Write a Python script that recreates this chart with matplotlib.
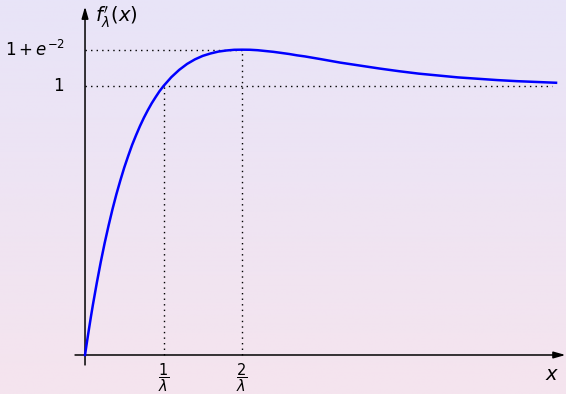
import numpy as np
import matplotlib
matplotlib.use("Agg")
import matplotlib.pyplot as plt

# curve f'_lambda(x) (lambda = 1)
x_vals = [0, 0.025, 0.05, 0.075, 0.1, 0.15, 0.2, 0.25, 0.3, 0.35, 0.4, 0.45,
          0.5, 0.55, 0.6, 0.65, 0.7, 0.75, 0.8, 0.85, 0.9, 0.95, 1.0,
          1.1, 1.2, 1.3, 1.4, 1.5, 1.6, 1.7, 1.8, 1.9, 2.0, 2.1, 2.2, 2.3,
          2.4, 2.5, 2.6, 2.7, 2.8, 3.0, 3.25, 3.5, 3.75, 4.0, 4.25, 4.5,
          4.75, 5.0, 5.25, 5.5, 5.75, 6.0]
y_vals = [0, 0.049, 0.096, 0.142, 0.186, 0.268, 0.345, 0.416, 0.481, 0.542, 0.598, 0.649,
          0.697, 0.740, 0.781, 0.817, 0.851, 0.882, 0.910, 0.936, 0.959, 0.981, 1.0,
          1.033, 1.060, 1.082, 1.099, 1.112, 1.121, 1.128, 1.132, 1.1346, 1.135, 1.1347, 1.133, 1.130,
          1.127, 1.123, 1.119, 1.114, 1.110, 1.100, 1.087, 1.076, 1.065, 1.055, 1.046, 1.039,
          1.032, 1.027, 1.022, 1.018, 1.015, 1.012]

x_marks = [1, 2]
x_labels = [r"$\dfrac{1}{\lambda}$", r"$\dfrac{2}{\lambda}$"]
y_marks = [1, 1.135]
y_labels = [r"$1$", r"$1+e^{-2}$"]

plt.rcParams['mathtext.fontset'] = 'dejavusans'

fig = plt.figure(figsize=(5.66, 3.94), dpi=100)
ax = fig.add_axes([0, 0, 1, 1])
xlim = (-1.083, 6.127)
ylim = (-0.145, 1.3197)
ax.set_xlim(*xlim)
ax.set_ylim(*ylim)
ax.axis('off')

# background gradient
top = np.array([232, 228, 248]) / 255
bot = np.array([245, 228, 238]) / 255
t = np.linspace(0, 1, 256)[:, None]
grad = top * (1 - t) + bot * t
ax.imshow(grad[:, None, :].repeat(2, axis=1), extent=(*xlim, *ylim),
          aspect='auto', zorder=0, origin='upper')

# dotted helper lines
dot = dict(color='black', lw=1.0, ls=(0, (1, 3)), zorder=2)
ax.plot([0, 5.95], [1, 1], **dot)
ax.plot([0, 2], [y_marks[1], y_marks[1]], **dot)
ax.plot([1, 1], [0, 1], **dot)
ax.plot([2, 2], [0, y_marks[1]], **dot)

# axes with arrows
arr = dict(arrowstyle='-|>,head_length=0.7,head_width=0.2', color='black', lw=1.1,
           shrinkA=0, shrinkB=0)
ax.annotate('', xy=(6.12, 0), xytext=(-0.127, 0), arrowprops=arr, zorder=3)
ax.annotate('', xy=(0, 1.295), xytext=(0, -0.037), arrowprops=arr, zorder=3)

ax.plot(x_vals, y_vals, color='#0000ff', lw=1.8, zorder=4, solid_joinstyle='round')

for xm, lab in zip(x_marks, x_labels):
    ax.text(xm, -0.083, lab, ha='center', va='center', fontsize=10.5)
for ym, lab in zip(y_marks, y_labels):
    ax.text(-0.26, ym, lab, ha='right', va='center', fontsize=12)

ax.text(0.13, 1.255, r"$f^{\prime}_{\lambda}(x)$", ha='left', va='center', fontsize=14)
ax.text(5.95, -0.072, r"$x$", ha='center', va='center', fontsize=14)

fig.savefig("out.png", dpi=100)
